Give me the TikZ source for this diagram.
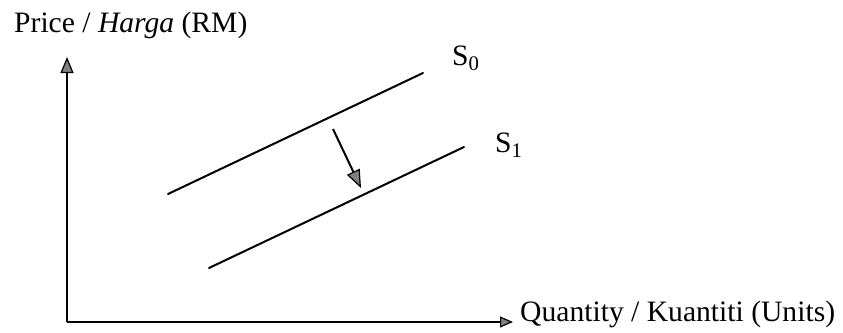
\documentclass[tikz,border=0pt]{standalone}
\usepackage{fontspec}
\setmainfont{Liberation Serif}
\usetikzlibrary{arrows.meta}
\begin{document}
\begin{tikzpicture}[x=1pt,y=-1pt,
  lbl/.style={anchor=base west,inner sep=0pt,font=\fontsize{29.6}{34}\selectfont},
  curve/.style={line width=2pt,line cap=round},
  axis/.style={line width=2pt},
  tri/.style={-{Triangle[length=16pt,width=13pt,fill=gray,line width=1.2pt]}}]
\useasboundingbox (0,0) rectangle (843,332);
\coordinate (o) at (67,322);
\coordinate (ytip) at (67,57);
\coordinate (xtip) at (513,322);
\coordinate (s0a) at (168,194);
\coordinate (s0b) at (423,73);
\coordinate (s1a) at (209,268);
\coordinate (s1b) at (464,147);
\coordinate (sh0) at (333,129);
\coordinate (sh1) at (361,188);
\node[lbl] (ylab) at (14,32) {Price / \textit{Harga} (RM)};
\node[lbl] (xlab) at (520,321) {Quantity / Kuantiti (Units)};
\node[lbl] (S0) at (452,65) {S\textsubscript{0}};
\node[lbl] (S1) at (495,152) {S\textsubscript{1}};
\draw[axis,tri] (o) -- (ytip);
\draw[axis,-{Triangle[length=13pt,width=11pt,fill=gray,line width=1.2pt]}] (o) -- (xtip);
\draw[curve] (s0a) -- (s0b);
\draw[curve] (s1a) -- (s1b);
\draw[line width=2pt,-{Triangle[length=18pt,width=14pt,fill=gray,line width=1.2pt]}] (sh0) -- (sh1);
\end{tikzpicture}
\end{document}
